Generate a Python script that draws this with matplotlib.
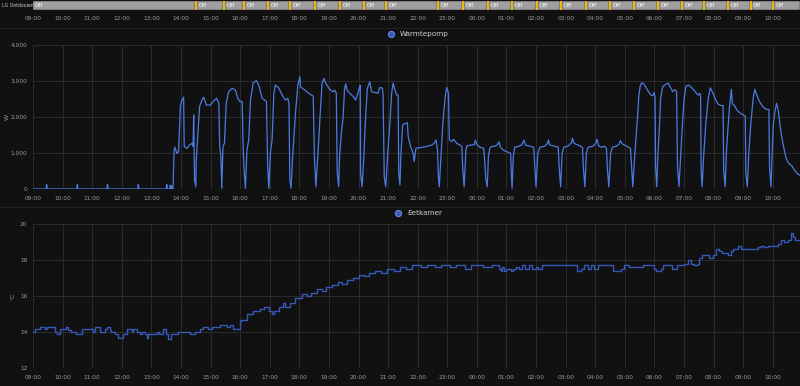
import matplotlib
matplotlib.use('Agg')
import matplotlib.pyplot as plt
from matplotlib.lines import Line2D
from matplotlib.ticker import FuncFormatter

# tijd in uren vanaf 00:00 van dag 1 (> 24 = volgende dag)
x_min, x_max = 9.0, 34.92
hours = list(range(9, 35))
hour_labels = ['%02d:00' % (h % 24) for h in hours]

# LG Ontdooien: korte "aan"-momenten (geel), verder "Off"
defrost_starts = [14.47, 15.42, 16.09, 16.90, 17.65, 18.49, 19.34, 20.15, 20.89,
                  22.65, 23.49, 24.34, 25.15, 25.99, 26.80, 27.65, 28.46, 29.27,
                  30.08, 30.89, 31.64, 32.45, 33.22, 33.97]

# Warmtepomp (W)
power_t = [9.00, 9.44, 9.46, 9.48, 10.48, 10.50, 10.52, 11.50, 11.52, 11.54,
           12.54, 12.56, 12.58, 13.50, 13.52, 13.54, 13.62, 13.64, 13.66, 13.68,
           13.70, 13.73,
           13.77, 13.80, 13.86, 13.92, 13.98, 14.03, 14.09, 14.11, 14.20, 14.29,
           14.37, 14.41, 14.43, 14.46, 14.50, 14.52, 14.56, 14.63, 14.71, 14.77,
           14.86, 14.99, 15.11, 15.20, 15.28, 15.31, 15.35, 15.38, 15.42, 15.47,
           15.53, 15.61, 15.73, 15.84, 15.92, 15.99, 16.07, 16.10, 16.14, 16.18,
           16.23, 16.29, 16.35, 16.44, 16.55, 16.63, 16.74, 16.89, 16.93, 16.97,
           17.02, 17.08, 17.14, 17.19, 17.31, 17.42, 17.53, 17.61, 17.65, 17.68,
           17.72, 17.78, 17.87, 17.95, 18.02, 18.04, 18.15, 18.32, 18.47, 18.51,
           18.56, 18.63, 18.70, 18.77, 18.83, 18.89,
           19.02, 19.14, 19.19, 19.25, 19.28, 19.33, 19.36, 19.42, 19.48, 19.53,
           19.57, 19.61, 19.70, 19.81, 19.90, 19.98, 20.04, 20.06, 20.07, 20.12,
           20.18, 20.24, 20.30, 20.38, 20.44, 20.55, 20.66, 20.72, 20.81, 20.83,
           20.87, 20.92, 20.98, 21.06, 21.12, 21.17, 21.23, 21.29, 21.34, 21.36,
           21.40, 21.43, 21.49, 21.57, 21.65, 21.68, 21.76, 21.85, 21.88, 21.94,
           22.08, 22.30, 22.47, 22.56, 22.62, 22.67, 22.70, 22.73, 22.78, 22.85,
           22.93, 22.98, 23.04, 23.07, 23.15, 23.21, 23.32, 23.43, 23.49, 23.52,
           23.57, 23.63, 23.66, 23.77, 23.91, 23.95, 24.00,
           24.10, 24.23, 24.27, 24.30, 24.35, 24.39, 24.44, 24.49, 24.61, 24.68,
           24.75, 24.80, 24.89, 25.00, 25.09, 25.14, 25.16, 25.19, 25.23, 25.28,
           25.39, 25.51, 25.59, 25.64, 25.79, 25.92, 25.96, 26.00, 26.06, 26.13,
           26.30, 26.39, 26.42, 26.46, 26.63, 26.75, 26.78, 26.83, 26.88, 26.94,
           27.08, 27.20, 27.23, 27.28, 27.42, 27.57, 27.60, 27.65, 27.70, 27.76,
           27.93, 28.02, 28.06, 28.12, 28.21, 28.29, 28.38, 28.41, 28.46, 28.52,
           28.58, 28.72, 28.81, 28.85, 28.92, 29.06, 29.19, 29.23,
           29.27, 29.34, 29.38, 29.43, 29.47, 29.52, 29.57, 29.63, 29.72, 29.80,
           29.88, 29.94, 29.99, 30.02, 30.04, 30.08, 30.12, 30.17, 30.21, 30.28,
           30.39, 30.47, 30.53, 30.62, 30.67, 30.72, 30.75, 30.78, 30.83, 30.89,
           30.94, 31.00, 31.06, 31.14, 31.23, 31.33, 31.42, 31.48, 31.54, 31.56,
           31.58, 31.61, 31.67, 31.74, 31.82, 31.89, 31.98, 32.07, 32.15, 32.23,
           32.32, 32.34, 32.39, 32.43, 32.49, 32.54, 32.60, 32.63, 32.71, 32.79,
           32.88, 32.99, 33.07, 33.09, 33.14, 33.19, 33.25, 33.33, 33.39, 33.46,
           33.55, 33.66, 33.78, 33.87, 33.89, 33.94, 33.98, 34.02, 34.08, 34.13,
           34.19, 34.25, 34.31, 34.39, 34.45, 34.54, 34.65, 34.73, 34.84, 34.92]
power_w = [0, 0, 130, 0, 0, 130, 0, 0, 130, 0,
           0, 130, 0, 0, 130, 0, 0, 100, 0, 90,
           0, 0,
           1080, 1160, 990, 1040, 2290, 2470, 2550, 1180, 1130, 1220,
           1270, 1180, 2060, 250, 60, 850, 1360, 2290, 2470, 2550,
           2330, 2330, 2450, 2520, 2380, 1180, 900, 20, 1180, 1270,
           2380, 2700, 2800, 2750, 2520, 2430, 2430, 1180, 435, 20,
           1080, 1360, 2470, 2950, 3010, 2890, 2520, 2430, 620, 20,
           990, 1360, 2660, 2890, 2800, 2610, 2470, 2520, 2380, 250,
           20, 990, 2100, 2890, 3120, 2840, 2770, 2660, 2580, 900,
           60, 990, 2010, 2940, 3070, 2940,
           2770, 2700, 2750, 2660, 480, 60, 900, 1550, 2010, 2800,
           2920, 2750, 2660, 2580, 2470, 2660, 2840, 2880, 435, 60,
           900, 2010, 2800, 2980, 2700, 2680, 2660, 2820, 2800, 2610,
           340, 60, 900, 1820, 2660, 2940, 2750, 2610, 2610, 435,
           110, 900, 1780, 1820, 1840, 1450, 1180, 990, 760, 1130,
           1150, 1180, 1220, 1270, 1360, 1080, 340, 60, 810, 1820,
           2560, 2820, 2660, 1360, 1320, 1380, 1270, 1220, 1190, 620,
           60, 1080, 1190, 1220, 1230, 1360, 1230,
           1160, 1130, 710, 300, 60, 900, 1130, 1180, 1190, 1220,
           1310, 1160, 1080, 1040, 1010, 990, 530, 20, 900, 1160,
           1180, 1220, 1360, 1220, 1190, 1160, 620, 60, 990, 1160,
           1190, 1270, 1360, 1220, 1190, 1160, 620, 60, 990, 1160,
           1190, 1290, 1410, 1270, 1220, 1160, 570, 60, 990, 1160,
           1190, 1270, 1380, 1190, 1160, 1190, 1130, 570, 60, 990,
           1160, 1190, 1250, 1340, 1250, 1190, 1130, 570,
           60, 990, 1450, 2010, 2570, 2860, 2950, 2930, 2820, 2700,
           2610, 2590, 2680, 2570, 620, 60, 990, 1730, 2520, 2840,
           2910, 2940, 2840, 2700, 2750, 2750, 2700, 620, 60, 990,
           1730, 2470, 2840, 2890, 2840, 2750, 2660, 2610, 2660, 2570,
           530, 60, 990, 1850, 2520, 2810, 2660, 2470, 2360, 2320,
           2320, 530, 60, 990, 1730, 2290, 2770, 2380, 2310, 2190,
           2120, 2060, 2030, 435, 60, 990, 1730, 2470, 2770, 2610,
           2430, 2290, 2210, 2210, 620, 60, 1080, 1820, 2190, 2380,
           2150, 1730, 1410, 1080, 850, 710, 640, 530, 420, 380]

# Eetkamer (°C), trapfunctie
temp_t = [9.00, 9.06, 9.23, 9.40, 9.47, 9.73, 9.81, 9.90, 10.13, 10.19,
          10.30, 10.47, 10.64, 11.03, 11.09, 11.26, 11.43, 11.51, 11.60, 11.65,
          11.77, 11.88, 12.05, 12.16, 12.33, 12.39, 12.50, 12.61, 12.67, 12.78,
          12.84, 12.89, 13.18, 13.27, 13.40, 13.51, 13.57, 13.65, 13.91, 14.30,
          14.47, 14.64, 14.76, 14.93, 15.04, 15.32, 15.55, 15.66, 15.77, 15.98,
          16.02, 16.22, 16.45, 16.67, 16.79, 16.96, 17.07, 17.15, 17.30, 17.44,
          17.52, 17.69, 17.86, 18.10, 18.25, 18.40, 18.60, 18.75, 18.90, 19.10,
          19.30, 19.45, 19.60, 19.80, 20.00, 20.20, 20.35, 20.55, 20.75, 20.95,
          21.20, 21.40, 21.60, 21.80, 22.10, 22.30, 22.60, 22.80, 23.10, 23.30,
          23.60, 23.80, 24.20, 24.50, 24.75, 24.81, 24.86, 24.92, 25.00, 25.15,
          25.23, 25.32, 25.41, 25.54, 25.63, 25.77, 25.88, 25.99, 26.08, 26.20,
          27.40, 27.51, 27.63, 27.74, 27.85, 27.97, 28.08, 28.59, 28.87, 28.98,
          29.15, 29.60, 29.99, 30.05, 30.22, 30.28, 30.61, 30.78, 31.01, 31.12,
          31.23, 31.35, 31.46, 31.52, 31.61, 31.85, 31.97, 32.08, 32.19, 32.28,
          32.47, 32.59, 32.67, 32.81, 32.93, 33.04, 33.49, 33.60, 33.71, 33.83,
          34.17, 34.28, 34.39, 34.50, 34.62, 34.67, 34.76, 34.92]
temp_c = [14.0, 14.2, 14.3, 14.2, 14.3, 14.0, 13.9, 14.2, 14.3, 14.1,
          14.0, 13.9, 14.2, 14.0, 14.3, 14.0, 14.2, 14.3, 14.1, 14.0,
          13.9, 13.7, 13.9, 14.2, 14.0, 14.2, 14.0, 13.9, 14.0, 13.9,
          13.7, 13.9, 14.0, 13.9, 14.2, 13.9, 13.6, 13.9, 14.0, 13.9,
          14.0, 14.2, 14.3, 14.2, 14.3, 14.4, 14.3, 14.4, 14.2, 14.6,
          14.7, 15.0, 15.2, 15.3, 15.4, 15.2, 15.0, 15.2, 15.4, 15.6,
          15.4, 15.6, 15.9, 16.1, 16.0, 16.2, 16.4, 16.3, 16.5, 16.6,
          16.8, 16.7, 16.9, 17.0, 17.2, 17.1, 17.3, 17.4, 17.3, 17.5,
          17.4, 17.6, 17.5, 17.7, 17.6, 17.7, 17.6, 17.7, 17.6, 17.7,
          17.5, 17.7, 17.6, 17.7, 17.5, 17.4, 17.6, 17.4, 17.5, 17.4,
          17.5, 17.6, 17.5, 17.7, 17.5, 17.7, 17.5, 17.6, 17.5, 17.7,
          17.4, 17.5, 17.7, 17.5, 17.7, 17.5, 17.7, 17.4, 17.5, 17.7,
          17.6, 17.7, 17.5, 17.4, 17.5, 17.7, 17.5, 17.7, 17.8, 18.0,
          17.8, 17.7, 17.8, 18.1, 18.3, 18.1, 18.3, 18.6, 18.5, 18.4,
          18.3, 18.5, 18.6, 18.8, 18.6, 18.6, 18.7, 18.8, 18.7, 18.8,
          18.9, 19.1, 19.0, 19.1, 19.5, 19.3, 19.1, 19.1]

bg = '#111111'
grid_c = '#2b2b2b'
tick_c = '#9a9a9a'
W, H = 800, 386

fig = plt.figure(figsize=(W / 100, H / 100), dpi=100, facecolor=bg)


def box(x0, y0, x1, y1):
    # pixelcoördinaten (van boven) naar figuurfracties
    return [x0 / W, 1 - y1 / H, (x1 - x0) / W, (y1 - y0) / H]


# --- tijdlijn bovenaan ---
tl = fig.add_axes(box(33, 1, 800, 10))
tl.set_facecolor(bg)
tl.set_xlim(x_min, x_max)
tl.set_ylim(0, 1)
edges = [x_min] + defrost_starts + [x_max]
for i in range(len(edges) - 1):
    start = edges[i] + (0.07 if i > 0 else 0)
    tl.broken_barh([(start, edges[i + 1] - start)], (0, 1), facecolor='#9e9e9e',
                   edgecolor=bg, linewidth=0.3)
    tl.text(start + 0.05, 0.5, 'Off', color='white', fontsize=4.0, va='center', ha='left')
tl.broken_barh([(s, 0.07) for s in defrost_starts], (0, 1), facecolor='#f2b705')
tl.set_yticks([])
tl.set_xticks(hours)
tl.set_xticklabels(hour_labels)
tl.tick_params(axis='x', length=0, pad=4, labelsize=4.2, labelcolor=tick_c)
for s in tl.spines.values():
    s.set_visible(False)
fig.text(2 / W, 1 - 5.5 / H, 'LG Ontdooien', color='#cfcfcf', fontsize=3.3, va='center')


def style(ax, label):
    ax.set_facecolor(bg)
    ax.set_xlim(x_min, x_max)
    ax.set_xticks(hours)
    ax.set_xticklabels(hour_labels)
    ax.grid(True, color=grid_c, linewidth=0.7)
    ax.set_axisbelow(True)
    for s in ax.spines.values():
        s.set_visible(False)
    ax.tick_params(length=0, labelsize=4.2, labelcolor=tick_c)
    ax.tick_params(axis='x', pad=5)
    ax.tick_params(axis='y', pad=4)
    h = Line2D([], [], marker='o', linestyle='', markersize=4.5,
               markerfacecolor='#3a5ab8', markeredgecolor='#6d8fe8', markeredgewidth=0.7)
    leg = ax.legend([h], [label], loc='lower center', bbox_to_anchor=(0.5, 1.02),
                    frameon=False, fontsize=5.2, handletextpad=0.2, borderpad=0.2)
    for t in leg.get_texts():
        t.set_color('#d0d0d0')


# --- Warmtepomp ---
ax1 = fig.add_axes(box(33, 45, 800, 189))
ax1.plot(power_t, power_w, color='#4b7be0', linewidth=0.9)
ax1.set_ylim(0, 4000)
ax1.set_yticks([0, 1000, 2000, 3000, 4000])
ax1.yaxis.set_major_formatter(FuncFormatter(lambda v, p: '{:,.0f}'.format(v)))
ax1.set_ylabel('W', color=tick_c, fontsize=4.5)
ax1.yaxis.set_label_coords(-23 / 767, 0.5)
style(ax1, 'Warmtepomp')

# --- Eetkamer ---
ax2 = fig.add_axes(box(33, 224, 800, 368.3))
ax2.step(temp_t, temp_c, where='post', color='#3658b8', linewidth=1.0)
ax2.set_ylim(12, 20)
ax2.set_yticks([12, 14, 16, 18, 20])
ax2.set_ylabel('°C', color=tick_c, fontsize=4.5)
ax2.yaxis.set_label_coords(-18 / 767, 0.5)
style(ax2, 'Eetkamer')

# scheidingslijnen tussen de kaarten
for y in (28, 207):
    fig.add_artist(Line2D([0, 1], [1 - y / H, 1 - y / H], transform=fig.transFigure,
                          color='#222222', linewidth=0.8))

fig.savefig('out.png', dpi=100, facecolor=bg)
